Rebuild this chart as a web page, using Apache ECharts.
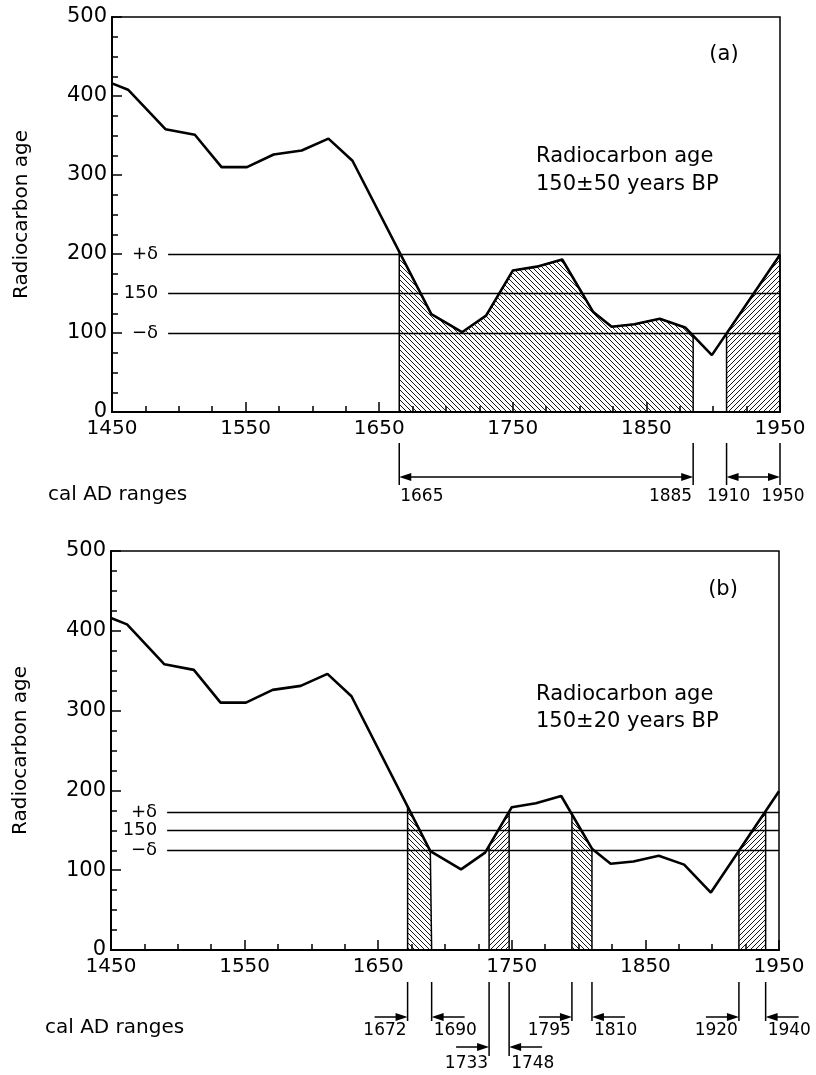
<!DOCTYPE html>
<html><head><meta charset="utf-8">
<script src="https://cdn.jsdelivr.net/npm/echarts@6/dist/echarts.min.js"></script>
<style>html,body{margin:0;padding:0;background:#fff}#c{width:816px;height:1075px}</style>
</head><body><div id="c"></div>
<script>
// ---- data ----
const years = [1450, 1462, 1490, 1512, 1532, 1551, 1571, 1592, 1612, 1630, 1689, 1712, 1730, 1750, 1768, 1787, 1810, 1824, 1841, 1860, 1879, 1899, 1950];
const ages  = [416, 408, 358, 351, 310, 310, 326, 331, 346, 318, 124, 101, 122, 179, 184, 193, 127, 108, 111, 118, 107, 72, 199];
const levelsA = [200, 150, 100];
const levelsB = [172, 150, 125];
const levelLabels = ['+δ', '150', '−δ'];
const rangesA = [[1665, 1885], [1910, 1950]];
const rangesB = [[1672, 1690], [1733, 1748], [1795, 1810], [1920, 1940]];
const xTickLabels = [1450, 1550, 1650, 1750, 1850, 1950];
const yTickLabels = [0, 100, 200, 300, 400, 500];
const panelTags = ['(a)', '(b)'];
const panelNotes = [['Radiocarbon age', '150±50 years BP'], ['Radiocarbon age', '150±20 years BP']];
const yName = 'Radiocarbon age';
const rangeTitle = 'cal AD ranges';

// ---- helpers ----
const FONT = 'DejaVu Sans';
function curveAt(x) {
  for (let i = 0; i < years.length - 1; i++) {
    if (x >= years[i] && x <= years[i + 1]) {
      const t = (x - years[i]) / (years[i + 1] - years[i]);
      return ages[i] + t * (ages[i + 1] - ages[i]);
    }
  }
  return ages[ages.length - 1];
}
function hatch(back) {
  const s = 5, c = document.createElement('canvas');
  c.width = s; c.height = s;
  const g = c.getContext('2d');
  g.strokeStyle = '#000'; g.lineWidth = 0.9;
  g.beginPath();
  for (let k = -1; k <= 1; k++) {
    if (back) { g.moveTo(0, k * s); g.lineTo(s, s + k * s); }
    else { g.moveTo(0, s + k * s); g.lineTo(s, k * s); }
  }
  g.stroke();
  return c;
}
const patBack = { image: hatch(true), repeat: 'repeat' };
const patFwd = { image: hatch(false), repeat: 'repeat' };
function bandData(r) {
  const a = r[0], b = r[1];
  const pts = [[a, 0], [a, curveAt(a)]];
  years.forEach((y, i) => { if (y > a && y < b) pts.push([y, ages[i]]); });
  pts.push([b, curveAt(b)]);
  pts.push([b, 0]);
  return pts;
}
const curve = years.map((y, i) => [y, ages[i]]);

function axesFor(gi) {
  const x = {
    type: 'value', gridIndex: gi, min: xTickLabels[0], max: xTickLabels[xTickLabels.length - 1],
    interval: xTickLabels[1] - xTickLabels[0],
    axisLine: { show: true, lineStyle: { color: '#000', width: 2 } },
    axisTick: { show: true, inside: true, length: 10, lineStyle: { color: '#000', width: 1.5 } },
    minorTick: { show: true, splitNumber: 4, length: 6, lineStyle: { color: '#000', width: 1.5 } },
    splitLine: { show: false },
    axisLabel: { color: '#000', fontSize: 20, fontFamily: FONT, margin: 7, formatter: v => String(v) }
  };
  const y = {
    type: 'value', gridIndex: gi, min: yTickLabels[0], max: yTickLabels[yTickLabels.length - 1],
    interval: yTickLabels[1] - yTickLabels[0],
    name: yName, nameLocation: 'middle', nameGap: 80,
    nameTextStyle: { color: '#000', fontSize: 20, fontFamily: FONT },
    axisLine: { show: true, lineStyle: { color: '#000', width: 2 } },
    axisTick: { show: true, inside: true, length: 10, lineStyle: { color: '#000', width: 1.5 } },
    minorTick: { show: true, splitNumber: 4, length: 6, lineStyle: { color: '#000', width: 1.5 } },
    splitLine: { show: false },
    axisLabel: { color: '#000', fontSize: 21, fontFamily: FONT, margin: 5, formatter: v => String(v) }
  };
  return [x, y];
}
function seriesFor(gi, ranges, levels) {
  const out = [];
  ranges.forEach(r => {
    const back = curveAt(r[0]) > curveAt(r[1]);
    out.push({
      type: 'line', xAxisIndex: gi, yAxisIndex: gi, data: bandData(r), symbol: 'none',
      lineStyle: { color: '#000', width: 1.5 }, areaStyle: { color: back ? patBack : patFwd, opacity: 1 },
      silent: true, z: 2, animation: false
    });
  });
  out.push({
    type: 'line', xAxisIndex: gi, yAxisIndex: gi, data: curve, symbol: 'none',
    lineStyle: { color: '#000', width: 2.6 }, z: 5, animation: false, silent: true,
    markLine: {
      silent: true, symbol: ['none', 'none'], animation: false,
      lineStyle: { color: '#000', width: 1.3, type: 'solid' },
      label: { show: true, position: 'start', distance: 10, color: '#000', fontSize: 18, fontFamily: FONT },
      data: levels.map((v, i) => [
        { coord: [1492, v], label: { formatter: levelLabels[i] } },
        { coord: [xTickLabels[xTickLabels.length - 1], v] }
      ])
    }
  });
  return out;
}
const ax0 = axesFor(0), ax1 = axesFor(1);
const chart = echarts.init(document.getElementById('c'), null, { renderer: 'canvas' });
chart.setOption({
  animation: false,
  backgroundColor: '#fff',
  grid: [
    { left: 112, top: 17, width: 668, height: 395, show: true, borderColor: '#000', borderWidth: 1.5, backgroundColor: 'transparent' },
    { left: 111, top: 551, width: 668, height: 399, show: true, borderColor: '#000', borderWidth: 1.5, backgroundColor: 'transparent' }
  ],
  xAxis: [ax0[0], ax1[0]],
  yAxis: [ax0[1], ax1[1]],
  series: seriesFor(0, rangesA, levelsA).concat(seriesFor(1, rangesB, levelsB))
});

// ---- annotations ----
const G = [];
function txt(x, y, s, size, align) {
  G.push({ type: 'text', x: x, y: y, style: { text: s, fill: '#000', font: size + 'px "' + FONT + '"', align: align || 'left', verticalAlign: 'middle' }, silent: true });
}
function seg(x1, y1, x2, y2, w) {
  G.push({ type: 'line', shape: { x1: x1, y1: y1, x2: x2, y2: y2 }, style: { stroke: '#000', lineWidth: w || 1.5 }, silent: true });
}
function head(xTip, y, dir) { // dir: -1 points left, +1 points right
  const L = 12, H = 4;
  G.push({ type: 'polygon', shape: { points: [[xTip, y], [xTip - dir * L, y - H], [xTip - dir * L, y + H]] }, style: { fill: '#000' }, silent: true });
}
const px = (gi, v) => chart.convertToPixel({ gridIndex: gi }, [v, 0])[0];

// panel texts
txt(724, 55, panelTags[0], 21, 'center');
txt(536, 157, panelNotes[0][0], 21);
txt(536, 185, panelNotes[0][1], 21);
txt(723, 590, panelTags[1], 21, 'center');
txt(536, 695, panelNotes[1][0], 21);
txt(536, 722, panelNotes[1][1], 21);
txt(48, 495, rangeTitle, 20);
txt(45, 1028, rangeTitle, 20);

// panel (a) ranges: double arrows
rangesA.forEach(r => {
  const xa = px(0, r[0]), xb = px(0, r[1]);
  seg(xa, 443, xa, 485); seg(xb, 443, xb, 485);
  seg(xa + 6, 477, xb - 6, 477, 1.5);
  head(xa, 477, -1); head(xb, 477, 1);
  if (xb - xa < 80) {
    txt(xa + 2, 497, String(r[0]), 17, 'center');
    txt(xb + 3, 497, String(r[1]), 17, 'center');
  } else {
    txt(xa + 1, 497, String(r[0]), 17, 'left');
    txt(xb - 1, 497, String(r[1]), 17, 'right');
  }
});
// panel (b) ranges: inward arrows
let prevEnd = -1e9;
rangesB.forEach(r => {
  const xa = px(1, r[0]), xb = px(1, r[1]);
  const low = (xa - prevEnd) < 60;
  prevEnd = xb;
  const yl = low ? 1056 : 1021, ya = low ? 1047 : 1017, yt = low ? 1064 : 1031;
  seg(xa, 982, xa, yl); seg(xb, 982, xb, yl);
  seg(xa - 33, ya, xa - 6, ya); head(xa, ya, 1);
  seg(xb + 6, ya, xb + 33, ya); head(xb, ya, -1);
  txt(xa - 1, yt, String(r[0]), 17, 'right');
  txt(xb + 2, yt, String(r[1]), 17, 'left');
});
chart.setOption({ graphic: { elements: G } });
</script>
</body></html>
